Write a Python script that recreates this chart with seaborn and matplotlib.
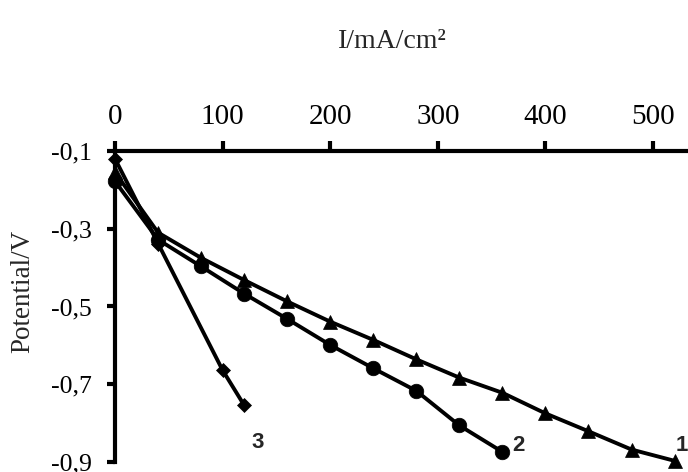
import matplotlib
matplotlib.use("Agg")
import matplotlib.pyplot as plt
import seaborn as sns
import pandas as pd

# Polarisation curves: current density (mA/cm2) vs electrode potential (V)
current_1 = [0, 40, 80, 120, 160, 200, 240, 280, 320, 360, 400, 440, 480, 520]
potential_1 = [-0.155, -0.31, -0.375, -0.432, -0.487, -0.539, -0.586, -0.636,
               -0.683, -0.722, -0.775, -0.821, -0.868, -0.897]

current_2 = [0, 40, 80, 120, 160, 200, 240, 280, 320, 360]
potential_2 = [-0.178, -0.328, -0.397, -0.467, -0.532, -0.599, -0.659, -0.717,
               -0.806, -0.874]

current_3 = [0, 40, 100, 120]
potential_3 = [-0.12, -0.338, -0.664, -0.754]

curve_names = ["1", "2", "3"]
curve_markers = ["^", "o", "D"]
curve_marker_sizes = [10.5, 10.5, 7.5]

x_ticks = [0, 100, 200, 300, 400, 500]
y_ticks = [-0.9, -0.7, -0.5, -0.3, -0.1]
y_tick_labels = ["-0,9", "-0,7", "-0,5", "-0,3", "-0,1"]

sns.set_style("white")
plt.rcParams["font.family"] = ["Liberation Serif", "DejaVu Serif"]

fig = plt.figure(figsize=(6.88, 4.72), dpi=100)
ax = fig.add_axes([0.1672, 0.0212, 0.8328, 0.6589])

frames = [
    pd.DataFrame({"I": current_1, "E": potential_1}),
    pd.DataFrame({"I": current_2, "E": potential_2}),
    pd.DataFrame({"I": current_3, "E": potential_3}),
]
for df, mk, ms in zip(frames, curve_markers, curve_marker_sizes):
    sns.lineplot(data=df, x="I", y="E", ax=ax, color="black", linewidth=2.8,
                 marker=mk, markersize=ms, markeredgecolor="black",
                 markeredgewidth=0.5, clip_on=False, sort=False,
                 estimator=None, legend=False)

# curve numbers next to the last point of each curve
label_font = dict(fontsize=16, fontweight="bold",
                  family=["Liberation Sans", "DejaVu Sans"], va="center")
ax.text(1.0, -0.857, curve_names[0], ha="right",
        transform=ax.get_yaxis_transform(), **label_font)
ax.text(369, -0.857, curve_names[1], ha="left", **label_font)
ax.text(127, -0.849, curve_names[2], ha="left", **label_font)

ax.set_xlim(0, 532.5)
ax.set_ylim(-0.9, -0.1)

ax.xaxis.tick_top()
ax.xaxis.set_label_position("top")
ax.set_xticks(x_ticks)
ax.set_yticks(y_ticks)
ax.set_yticklabels(y_tick_labels)

ax.tick_params(axis="x", direction="out", length=7, width=3, pad=8,
               labelsize=21, top=True, bottom=False, colors="black")
ax.tick_params(axis="y", direction="out", length=6, width=3, pad=11,
               labelsize=18.5, left=True, colors="black")

for side in ["right", "bottom"]:
    ax.spines[side].set_visible(False)
for side in ["left", "top"]:
    ax.spines[side].set_linewidth(3)
    ax.spines[side].set_color("black")

ax.set_xlabel("I/mA/cm²", fontsize=20)
ax.set_ylabel("Potential/V", fontsize=19.5)
ax.xaxis.set_label_coords((392.5 - 115) / 573.0, (462 - 42) / 311.0)
ax.xaxis.label.set_va("center")
ax.yaxis.set_label_coords((23 - 115) / 573.0, (462 - 291) / 311.0)
ax.yaxis.label.set_va("center")

fig.savefig("out.png", dpi=100)
